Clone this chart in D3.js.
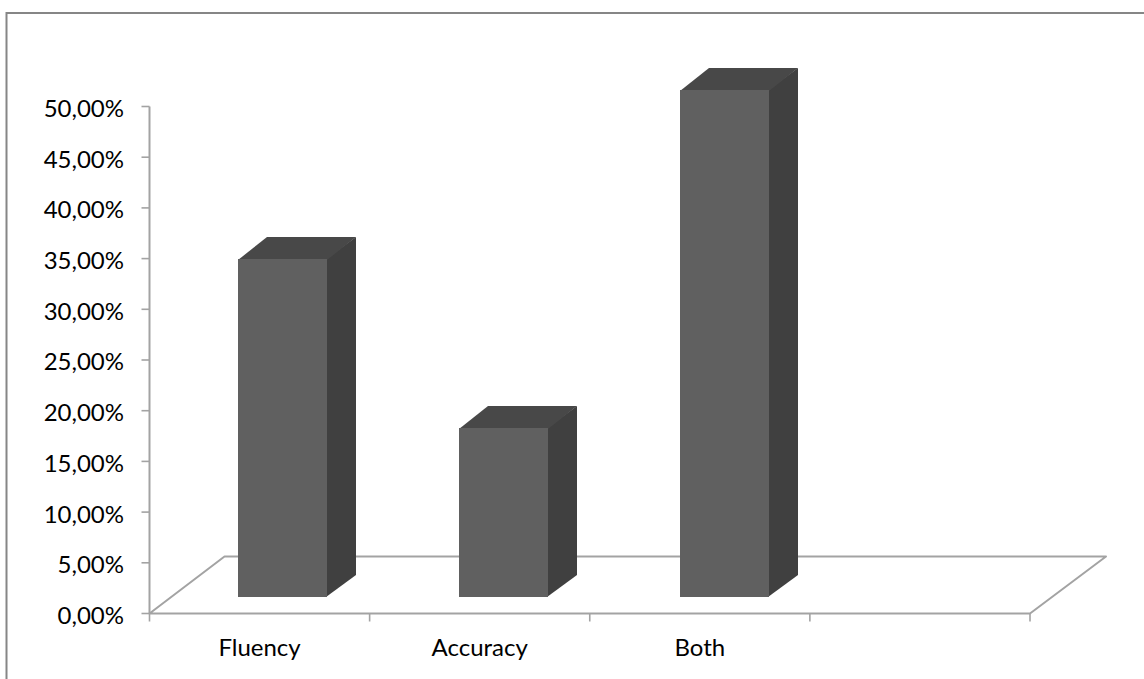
<!DOCTYPE html>
<html><head><meta charset="utf-8">
<style>html,body{margin:0;padding:0;background:#fff}svg{display:block}text{font-family:Lato,"Open Sans",sans-serif;fill:#000}</style>
<script src="https://cdn.jsdelivr.net/npm/d3@7"></script></head>
<body><svg id="c" width="1144" height="679"></svg>
<script>
const categories=["Fluency","Accuracy","Both",""];
const values=[33.3,16.7,50];
const yTicks=[0,5,10,15,20,25,30,35,40,45,50];
const svg=d3.select("#c");
const axisColor="#a3a3a3";
const y=d3.scaleLinear().domain([0,50]).range([613.5,106.5]);
const x=d3.scaleBand().domain(d3.range(categories.length)).range([149.5,1030]);
const barX=d3.scaleLinear().domain([0,2]).range([238,680]);
const depth={x:75,y:-57};
const barD={x:29,y:-22};
const floorOff={y:-17};
const barW=89;

svg.append("rect").attr("x",6.5).attr("y",13).attr("width",1200).attr("height",700)
  .attr("fill","#fff").attr("stroke","#868686").attr("stroke-width",2);

const x0=x.range()[0],x1=x.range()[1],y0=y(0);
svg.append("path").attr("d",`M${x0},${y0}L${x0+depth.x},${y0+depth.y}L${x1+depth.x+1},${y0+depth.y}L${x1},${y0}Z`)
  .attr("fill","#fff").attr("stroke",axisColor).attr("stroke-width",2).attr("stroke-linejoin","round");

// y axis
svg.append("line").attr("x1",x0).attr("x2",x0).attr("y1",y(50)).attr("y2",y0).attr("stroke",axisColor).attr("stroke-width",2);
const yt=svg.append("g").selectAll("g").data(yTicks).join("g");
yt.append("line").attr("x1",x0-8).attr("x2",x0).attr("y1",d=>y(d)).attr("y2",d=>y(d)).attr("stroke",axisColor).attr("stroke-width",1.6);
yt.append("text").attr("x",124).attr("y",d=>y(d)+2).attr("dy","0.35em").attr("text-anchor","end")
  .style("font-size","24px").text(d=>d3.format(".2f")(d).replace(".",",")+"%");

// x axis ticks
svg.append("g").selectAll("line").data(d3.range(categories.length+1)).join("line")
  .attr("x1",i=>x0+i*x.bandwidth()).attr("x2",i=>x0+i*x.bandwidth()).attr("y1",y0).attr("y2",y0+8).attr("stroke",axisColor).attr("stroke-width",1.6);
svg.append("g").selectAll("text").data(categories).join("text")
  .attr("x",(d,i)=>x(i)+x.bandwidth()/2).attr("y",656).attr("text-anchor","middle")
  .style("font-size","24px").text(d=>d);

// bars
const base=Math.round(y0+floorOff.y);
const scale=(y(0)-y(50))/50;
const g=svg.append("g").selectAll("g").data(values).join("g");
const left=i=>barX(i);
const topY=d=>Math.round(base-d*scale);
g.append("path").attr("fill","#404040").attr("d",(d,i)=>{const l=left(i)+barW;return `M${l-1},${base}L${l+barD.x},${base+barD.y}L${l+barD.x},${topY(d)+barD.y}L${l-1},${topY(d)}Z`});
g.append("path").attr("fill","#484848").attr("d",(d,i)=>{const l=left(i);return `M${l},${topY(d)+1}L${l+barD.x},${topY(d)+barD.y}L${l+barW+barD.x},${topY(d)+barD.y}L${l+barW},${topY(d)+1}Z`});
g.append("rect").attr("x",(d,i)=>left(i)).attr("y",d=>topY(d)).attr("width",barW).attr("height",d=>base-topY(d)).attr("fill","#606060");
</script></body></html>
